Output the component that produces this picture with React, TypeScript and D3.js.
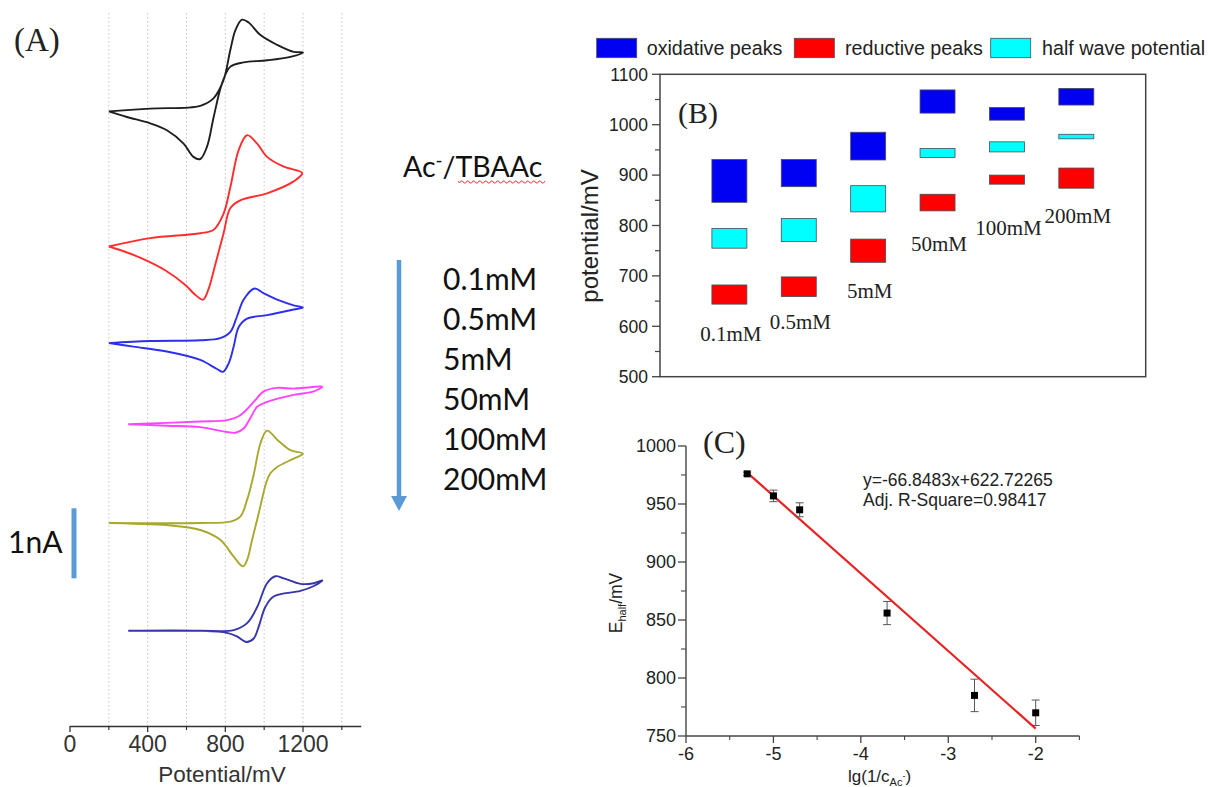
import React, { useRef, useEffect } from 'react'
import * as d3 from 'd3'

// ---- (A) cyclic voltammograms: [potential mV, current nA] (curves stacked with offsets)
const cv01 = [[200,8.78],[413,8.82],[671,8.86],[740,8.97],[791,9.23],[826,9.66],[852,9.94],[886,10.09],[920,10.05],[981,9.87],[1067,9.73],[1152,9.63],[1200,9.62],[1135,9.56],[1015,9.51],[894,9.48],[826,9.42],[783,9.18],[740,8.70],[706,8.28],[671,8.10],[636,8.13],[585,8.32],[499,8.51],[413,8.61],[293,8.70],[200,8.78]]
const cv05 = [[200,6.85],[413,6.97],[671,7.04],[740,7.09],[791,7.32],[826,7.70],[869,8.23],[912,8.44],[964,8.32],[1015,8.13],[1101,7.99],[1196,7.90],[1152,7.78],[1015,7.61],[877,7.51],[826,7.40],[791,7.04],[748,6.59],[712,6.23],[685,6.09],[645,6.16],[594,6.30],[490,6.51],[361,6.69],[258,6.80],[200,6.85]]
const cv5 = [[200,5.47],[413,5.50],[671,5.51],[774,5.54],[826,5.63],[860,5.85],[894,6.09],[950,6.25],[998,6.18],[1067,6.09],[1152,6.01],[1200,5.98],[1152,5.95],[1015,5.87],[912,5.82],[869,5.70],[843,5.42],[817,5.18],[788,5.06],[757,5.10],[671,5.23],[499,5.35],[327,5.42],[200,5.47]]
const cv50 = [[300,4.31],[499,4.33],[671,4.35],[809,4.37],[877,4.44],[946,4.63],[998,4.78],[1067,4.83],[1152,4.82],[1239,4.84],[1300,4.85],[1256,4.78],[1152,4.73],[1015,4.63],[964,4.56],[929,4.40],[894,4.25],[852,4.19],[809,4.20],[671,4.27],[499,4.29],[300,4.31]]
const cv100 = [[200,2.90],[671,2.90],[826,2.92],[877,2.99],[912,3.23],[946,3.59],[981,4.04],[1015,4.22],[1067,4.09],[1135,3.94],[1200,3.89],[1152,3.82],[1067,3.70],[1032,3.61],[1012,3.49],[972,3.04],[938,2.66],[912,2.37],[891,2.28],[843,2.42],[774,2.66],[671,2.80],[499,2.87],[327,2.89],[200,2.90]]
const cv200 = [[300,1.36],[671,1.36],[843,1.37],[912,1.47],[964,1.70],[1015,2.04],[1058,2.14],[1101,2.11],[1187,2.03],[1256,2.04],[1300,2.08],[1256,2.00],[1187,1.93],[1049,1.85],[1006,1.70],[972,1.42],[946,1.25],[908,1.20],[860,1.28],[809,1.33],[671,1.36],[300,1.36]]
const cvCurves = [cv01, cv05, cv5, cv50, cv100, cv200]
const cvColors = ['#1e1e1e', '#ff2d2d', '#2e2eee', '#ff44ff', '#a9a82e', '#3636a8']
const potentialTicks = [0, 400, 800, 1200]
const potentialMinor = [200, 600, 1000, 1400]
const potentialGrid = [200, 400, 600, 800, 1000, 1200, 1400]
const scaleBarStart = 2.11 // nA, bar spans 1 nA

// ---- (B) peak potentials per concentration (mV)
const concLabels = ['0.1mM', '0.5mM', '5mM', '50mM', '100mM', '200mM']
const oxHi = [931, 931, 985, 1069, 1034, 1072]
const oxLo = [846, 877, 930, 1023, 1009, 1039]
const halfHi = [794, 814, 879, 953, 966, 981]
const halfLo = [755, 768, 827, 935, 946, 972]
const redHi = [682, 698, 773, 862, 900, 914]
const redLo = [644, 659, 727, 829, 882, 874]
const labelAt = [571, 594, 656, 750, 781, 804]
const potTicks = [500, 600, 700, 800, 900, 1000, 1100]
const potMinor = [550, 650, 750, 850, 950, 1050]

// ---- (C) half-wave potential vs lg(1/c)
const lgX = [-5.3, -5, -4.7, -3.7, -2.7, -2]
const eHalf = [976, 957, 945, 856, 785, 770]
const eErr = [1.5, 5, 6, 10, 14, 11]
const slope = -66.8483
const intercept = 622.72265
const cXTicks = [-6, -5, -4, -3, -2]
const cXMinor = [-5.5, -4.5, -3.5, -2.5, -1.5]
const cYTicks = [750, 800, 850, 900, 950, 1000]
const cYMinor = [775, 825, 875, 925, 975]

const SANS = '"Liberation Sans", Arial, sans-serif'
const SERIF = '"Liberation Serif", "Times New Roman", serif'
const CAL = 'Lato, "Open Sans", sans-serif'

function drawA(svg) {
  const x = d3.scaleLinear().domain([0, 1200]).range([70, 303])
  const y = d3.scaleLinear().domain([0, 1]).range([726, 656])
  const g = svg.append('g')

  g.selectAll('line.grid').data(potentialGrid).join('line')
    .attr('x1', d => x(d)).attr('x2', d => x(d))
    .attr('y1', 13).attr('y2', 726)
    .attr('stroke', '#c4c4c4').attr('stroke-width', 1)
    .attr('stroke-dasharray', '1.5,2.5')

  const line = d3.line().x(d => x(d[0])).y(d => y(d[1])).curve(d3.curveCatmullRom.alpha(0.5))
  g.selectAll('path.cv').data(cvCurves).join('path')
    .attr('d', d => line(d))
    .attr('fill', 'none')
    .attr('stroke', (d, i) => cvColors[i])
    .attr('stroke-width', 1.9)
    .attr('stroke-linejoin', 'round')

  // axis
  g.append('line').attr('x1', x(0)).attr('x2', x(1500)).attr('y1', 726.5).attr('y2', 726.5)
    .attr('stroke', '#333').attr('stroke-width', 1.5)
  g.selectAll('line.maj').data(potentialTicks).join('line')
    .attr('x1', d => x(d)).attr('x2', d => x(d)).attr('y1', 726).attr('y2', 732)
    .attr('stroke', '#333').attr('stroke-width', 1.3)
  g.selectAll('line.min').data(potentialMinor).join('line')
    .attr('x1', d => x(d)).attr('x2', d => x(d)).attr('y1', 726).attr('y2', 730)
    .attr('stroke', '#333').attr('stroke-width', 1.2)
  g.selectAll('text.tl').data(potentialTicks).join('text')
    .attr('x', d => x(d)).attr('y', 752)
    .attr('text-anchor', 'middle').attr('font-family', SANS).attr('font-size', 23).attr('fill', '#333')
    .text(d => d)
  g.append('text').attr('x', 222).attr('y', 782).attr('text-anchor', 'middle')
    .attr('font-family', SANS).attr('font-size', 22.5).attr('fill', '#333').text('Potential/mV')

  // scale bar
  g.append('line').attr('x1', 74).attr('x2', 74)
    .attr('y1', y(scaleBarStart)).attr('y2', y(scaleBarStart + 1))
    .attr('stroke', '#5b9bd5').attr('stroke-width', 5)
  g.append('text').attr('x', 8).attr('y', 553).attr('font-family', CAL).attr('font-size', 30)
    .attr('fill', '#111').text('1nA')

  // title + legend text
  g.append('text').attr('x', 14).attr('y', 51).attr('font-family', SERIF).attr('font-size', 33)
    .attr('fill', '#222').text('(A)')

  const ac = g.append('text').attr('x', 403).attr('y', 177).attr('font-family', CAL)
    .attr('font-size', 28.5).attr('fill', '#111')
  ac.append('tspan').text('Ac')
  ac.append('tspan').attr('dy', -10).attr('font-size', 19).text('-')
  ac.append('tspan').attr('dy', 10).text('/TBAAc')
  let wave = 'M458,181'
  for (let px = 458; px < 543; px += 3) wave += ` L${px + 1.5},${(px - 458) % 6 === 0 ? 183 : 181} L${px + 3},${(px - 458) % 6 === 0 ? 181 : 183}`
  g.append('path').attr('d', wave).attr('fill', 'none').attr('stroke', '#e03030').attr('stroke-width', 0.9)

  g.append('line').attr('x1', 399).attr('x2', 399).attr('y1', 260).attr('y2', 497)
    .attr('stroke', '#5b9bd5').attr('stroke-width', 4.5)
  g.append('path').attr('d', 'M391,496 L407,496 L399,511 Z').attr('fill', '#5b9bd5')

  g.selectAll('text.conc').data(concLabels).join('text')
    .attr('x', 443).attr('y', (d, i) => 290 + 40 * i)
    .attr('font-family', CAL).attr('font-size', 30).attr('fill', '#111')
    .text(d => d)
}

function drawB(svg) {
  const x = d3.scaleLinear().domain([0, 7]).range([660, 1145.7])
  const y = d3.scaleLinear().domain([500, 1100]).range([376.7, 74.3])
  const g = svg.append('g')
  const half = 0.252

  const series = [
    { hi: oxHi, lo: oxLo, fill: '#0000f2' },
    { hi: halfHi, lo: halfLo, fill: '#00ffff' },
    { hi: redHi, lo: redLo, fill: '#ff0000' },
  ]
  series.forEach(s => {
    g.selectAll(null).data(s.hi).join('rect')
      .attr('x', (d, i) => x(i + 1 - half))
      .attr('width', (d, i) => x(i + 1 + half) - x(i + 1 - half))
      .attr('y', d => y(d))
      .attr('height', (d, i) => y(s.lo[i]) - y(d))
      .attr('fill', s.fill).attr('stroke', '#4a4a5a').attr('stroke-width', 0.8)
  })

  g.selectAll('text.cl').data(concLabels).join('text')
    .attr('x', (d, i) => x(i + 1) + 1.5).attr('y', (d, i) => y(labelAt[i]))
    .attr('text-anchor', 'middle').attr('font-family', SERIF).attr('font-size', 21).attr('fill', '#222')
    .text(d => d)

  g.append('rect').attr('x', 660).attr('y', 74.3).attr('width', 485.7).attr('height', 302.4)
    .attr('fill', 'none').attr('stroke', '#444').attr('stroke-width', 1.5)
  g.selectAll('line.maj').data(potTicks).join('line')
    .attr('x1', 652).attr('x2', 660).attr('y1', d => y(d)).attr('y2', d => y(d))
    .attr('stroke', '#444').attr('stroke-width', 1.3)
  g.selectAll('line.min').data(potMinor).join('line')
    .attr('x1', 655).attr('x2', 660).attr('y1', d => y(d)).attr('y2', d => y(d))
    .attr('stroke', '#444').attr('stroke-width', 1.2)
  g.selectAll('text.tl').data(potTicks).join('text')
    .attr('x', 648).attr('y', d => y(d)).attr('dy', '0.36em')
    .attr('text-anchor', 'end').attr('font-family', SANS).attr('font-size', 17.5).attr('fill', '#222')
    .text(d => d)
  g.append('text').attr('transform', 'translate(598,236) rotate(-90)').attr('text-anchor', 'middle')
    .attr('font-family', SANS).attr('font-size', 24).attr('fill', '#222').text('potential/mV')

  g.append('text').attr('x', 678).attr('y', 123).attr('font-family', SERIF).attr('font-size', 30)
    .attr('fill', '#222').text('(B)')

  // legend
  const legend = [
    { label: 'oxidative peaks', fill: '#0000f2', bx: 596.7, tx: 646.7 },
    { label: 'reductive peaks', fill: '#ff0000', bx: 794.3, tx: 845 },
    { label: 'half wave potential', fill: '#00ffff', bx: 990.7, tx: 1042 },
  ]
  g.selectAll('rect.lg').data(legend).join('rect')
    .attr('x', d => d.bx).attr('y', 38.3).attr('width', 40).attr('height', 19.4)
    .attr('fill', d => d.fill).attr('stroke', '#4a4a5a').attr('stroke-width', 0.8)
  g.selectAll('text.lg').data(legend).join('text')
    .attr('x', d => d.tx).attr('y', 54.5)
    .attr('font-family', SANS).attr('font-size', 19.7).attr('fill', '#222')
    .text(d => d.label)
}

function drawC(svg) {
  const x = d3.scaleLinear().domain([-6, -2]).range([686, 1035.7])
  const y = d3.scaleLinear().domain([750, 1000]).range([736, 446])
  const g = svg.append('g')
  const pts = lgX.map((v, i) => ({ x: v, y: eHalf[i], e: eErr[i] }))

  g.append('line').attr('x1', x(-6)).attr('x2', x(-6)).attr('y1', y(1000)).attr('y2', y(750))
    .attr('stroke', '#444').attr('stroke-width', 1.4)
  g.append('line').attr('x1', x(-6)).attr('x2', x(-1.5)).attr('y1', y(750)).attr('y2', y(750))
    .attr('stroke', '#444').attr('stroke-width', 1.4)
  g.selectAll('line.ym').data(cYTicks).join('line')
    .attr('x1', 678).attr('x2', 686).attr('y1', d => y(d)).attr('y2', d => y(d))
    .attr('stroke', '#444').attr('stroke-width', 1.3)
  g.selectAll('line.yn').data(cYMinor).join('line')
    .attr('x1', 681).attr('x2', 686).attr('y1', d => y(d)).attr('y2', d => y(d))
    .attr('stroke', '#444').attr('stroke-width', 1.1)
  g.selectAll('line.xm').data(cXTicks).join('line')
    .attr('x1', d => x(d)).attr('x2', d => x(d)).attr('y1', 736).attr('y2', 743)
    .attr('stroke', '#444').attr('stroke-width', 1.3)
  g.selectAll('line.xn').data(cXMinor).join('line')
    .attr('x1', d => x(d)).attr('x2', d => x(d)).attr('y1', 736).attr('y2', 740)
    .attr('stroke', '#444').attr('stroke-width', 1.1)
  g.selectAll('text.yl').data(cYTicks).join('text')
    .attr('x', 676).attr('y', d => y(d)).attr('dy', '0.36em').attr('text-anchor', 'end')
    .attr('font-family', SANS).attr('font-size', 18).attr('fill', '#222').text(d => d)
  g.selectAll('text.xl').data(cXTicks).join('text')
    .attr('x', d => x(d)).attr('y', 760).attr('text-anchor', 'middle')
    .attr('font-family', SANS).attr('font-size', 18).attr('fill', '#222').text(d => d)

  // fit line
  const fit = [lgX[0], lgX[lgX.length - 1]].map(v => [v, slope * v + intercept])
  g.append('path').attr('d', d3.line().x(d => x(d[0])).y(d => y(d[1]))(fit))
    .attr('stroke', '#e82222').attr('stroke-width', 2.2).attr('fill', 'none')

  // error bars
  g.selectAll('line.eb').data(pts).join('line')
    .attr('x1', d => x(d.x)).attr('x2', d => x(d.x))
    .attr('y1', d => y(d.y + d.e)).attr('y2', d => y(d.y - d.e))
    .attr('stroke', '#555').attr('stroke-width', 1)
  ;[1, -1].forEach(s => {
    g.selectAll(null).data(pts).join('line')
      .attr('x1', d => x(d.x) - 4).attr('x2', d => x(d.x) + 4)
      .attr('y1', d => y(d.y + s * d.e)).attr('y2', d => y(d.y + s * d.e))
      .attr('stroke', '#555').attr('stroke-width', 1)
  })
  g.selectAll('rect.pt').data(pts).join('rect')
    .attr('x', d => x(d.x) - 3.5).attr('y', d => y(d.y) - 3.5)
    .attr('width', 7).attr('height', 7).attr('fill', '#000')

  g.append('text').attr('x', 863).attr('y', 486).attr('font-family', SANS).attr('font-size', 17.5)
    .attr('fill', '#222').text(`y=${slope}x+${intercept}`)
  g.append('text').attr('x', 863).attr('y', 506).attr('font-family', SANS).attr('font-size', 17.5)
    .attr('fill', '#222').text('Adj. R-Square=0.98417')

  g.append('text').attr('x', 703).attr('y', 453).attr('font-family', SERIF).attr('font-size', 32)
    .attr('fill', '#222').text('(C)')

  const xl = g.append('text').attr('x', 848).attr('y', 782).attr('font-family', SANS)
    .attr('font-size', 17).attr('fill', '#222')
  xl.append('tspan').text('lg(1/c')
  xl.append('tspan').attr('dy', 4).attr('font-size', 11).text('Ac')
  xl.append('tspan').attr('dy', -7).attr('font-size', 9).text('-')
  xl.append('tspan').attr('dy', 3).text(')')

  const yl = g.append('text').attr('transform', 'translate(622,603) rotate(-90)')
    .attr('text-anchor', 'middle').attr('font-family', SANS).attr('font-size', 17.5).attr('fill', '#222')
  yl.append('tspan').text('E')
  yl.append('tspan').attr('dy', 4).attr('font-size', 11).text('half')
  yl.append('tspan').attr('dy', -4).text('/mV')
}

export default function App() {
  const ref = useRef(null)
  useEffect(() => {
    const svg = d3.select(ref.current)
    svg.selectAll('*').remove()
    drawA(svg)
    drawB(svg)
    drawC(svg)
  }, [])
  return (
    <svg ref={ref} width={1208} height={787}
      style={{ position: 'absolute', left: 0, top: 0, background: '#fff' }} />
  )
}
